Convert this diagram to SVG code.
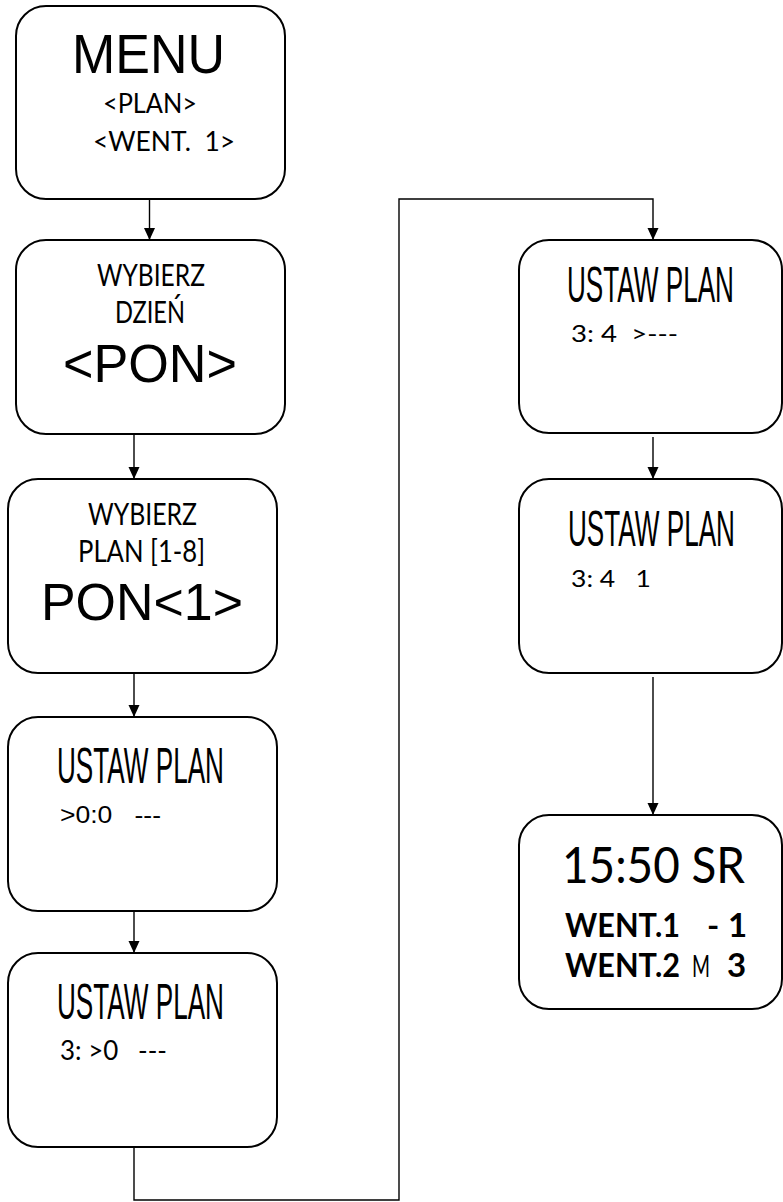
<svg xmlns="http://www.w3.org/2000/svg" width="783" height="1202" viewBox="0 0 783 1202">
<style>
.box{fill:#fff;stroke:#000;stroke-width:2}
.con{fill:none;stroke:#000;stroke-width:1.4}
.ar{font-family:"Liberation Sans",Arial,sans-serif;fill:#000}
.ca{font-family:Lato,"Open Sans",sans-serif;fill:#000;white-space:pre}
.b{font-weight:bold}
.up{font-family:"Liberation Sans",Arial,sans-serif;font-size:50px;fill:#000}
</style>
<defs>
<marker id="ah" markerUnits="userSpaceOnUse" markerWidth="12" markerHeight="12" viewBox="0 0 12 12" refX="12" refY="6" orient="auto">
<path d="M0,0.5 L12,6 L0,11.5 z" fill="#000"/>
</marker>
</defs>
<rect width="783" height="1202" fill="#fff"/>
<g id="connectors">
<line class="con" x1="149.5" y1="199" x2="149.5" y2="240" marker-end="url(#ah)"/>
<line class="con" x1="134" y1="434" x2="134" y2="479" marker-end="url(#ah)"/>
<line class="con" x1="134" y1="673" x2="134" y2="717" marker-end="url(#ah)"/>
<line class="con" x1="134" y1="911" x2="134" y2="953" marker-end="url(#ah)"/>
<path class="con" d="M134,1147 V1200 H399 V199 H653 V240" marker-end="url(#ah)"/>
<line class="con" x1="653" y1="437" x2="653" y2="479" marker-end="url(#ah)"/>
<line class="con" x1="653" y1="677" x2="653" y2="815" marker-end="url(#ah)"/>
</g>
<g id="menu">
<rect class="box" x="16" y="6" width="269" height="193" rx="30"/>
<text class="ar" x="72" y="73" font-size="56" textLength="153" lengthAdjust="spacingAndGlyphs">MENU</text>
<text class="ca" x="103" y="113" font-size="26" textLength="94" lengthAdjust="spacingAndGlyphs">&lt;PLAN&gt;</text>
<text class="ca" x="93" y="151" font-size="26" textLength="142" lengthAdjust="spacingAndGlyphs">&lt;WENT.  1&gt;</text>
</g>
<g id="wybierz-dzien">
<rect class="box" x="16" y="240" width="269" height="194" rx="30"/>
<text class="ca" x="97" y="286" font-size="30" textLength="108" lengthAdjust="spacingAndGlyphs">WYBIERZ</text>
<text class="ca" x="115" y="323" font-size="30" textLength="70" lengthAdjust="spacingAndGlyphs">DZIEŃ</text>
<text class="ar" x="63" y="382" font-size="53" textLength="174" lengthAdjust="spacingAndGlyphs">&lt;PON&gt;</text>
</g>
<g id="wybierz-plan">
<rect class="box" x="8" y="479" width="269" height="194" rx="30"/>
<text class="ca" x="88" y="525" font-size="30" textLength="109" lengthAdjust="spacingAndGlyphs">WYBIERZ</text>
<text class="ca" x="78" y="562" font-size="30" textLength="127" lengthAdjust="spacingAndGlyphs">PLAN [1-8]</text>
<text class="ar" x="41" y="620" font-size="52" textLength="202" lengthAdjust="spacingAndGlyphs">PON&lt;1&gt;</text>
</g>
<g id="ustaw-plan-1">
<rect class="box" x="8" y="717" width="269" height="194" rx="30"/>
<text class="up" transform="translate(57,783) scale(0.523,1)">USTAW PLAN</text>
<text class="ar" x="60" y="823" font-size="24" textLength="101" lengthAdjust="spacingAndGlyphs" style="white-space:pre">&gt;0:0   ---</text>
</g>
<g id="ustaw-plan-2">
<rect class="box" x="8" y="953" width="269" height="194" rx="30"/>
<text class="up" transform="translate(57,1019) scale(0.523,1)">USTAW PLAN</text>
<text class="ca" x="60" y="1060" font-size="26" textLength="107" lengthAdjust="spacingAndGlyphs">3: &gt;0   ---</text>
</g>
<g id="ustaw-plan-3">
<rect class="box" x="519" y="240" width="263" height="193" rx="30"/>
<text class="up" transform="translate(567,302) scale(0.523,1)">USTAW PLAN</text>
<text class="ca" x="571" y="342" font-size="24" textLength="107" lengthAdjust="spacingAndGlyphs">3: 4  &gt;---</text>
</g>
<g id="ustaw-plan-4">
<rect class="box" x="519" y="479" width="263" height="194" rx="30"/>
<text class="up" transform="translate(568,546) scale(0.523,1)">USTAW PLAN</text>
<text class="ca" x="571" y="587" font-size="24" textLength="80" lengthAdjust="spacingAndGlyphs">3: 4   1</text>
</g>
<g id="status">
<rect class="box" x="519" y="815" width="263" height="194" rx="30"/>
<text class="ca" x="562" y="883" font-size="50" textLength="183" lengthAdjust="spacingAndGlyphs">15:50 SR</text>
<text class="ca b" y="937" font-size="33"><tspan x="565" textLength="115" lengthAdjust="spacingAndGlyphs">WENT.1</tspan><tspan x="707">-</tspan><tspan x="728">1</tspan></text>
<text class="ca" y="977" font-size="33"><tspan class="b" x="565" textLength="115" lengthAdjust="spacingAndGlyphs">WENT.2</tspan><tspan x="692" font-size="30" textLength="18" lengthAdjust="spacingAndGlyphs">M</tspan><tspan class="b" x="727">3</tspan></text>
</g>
</svg>
